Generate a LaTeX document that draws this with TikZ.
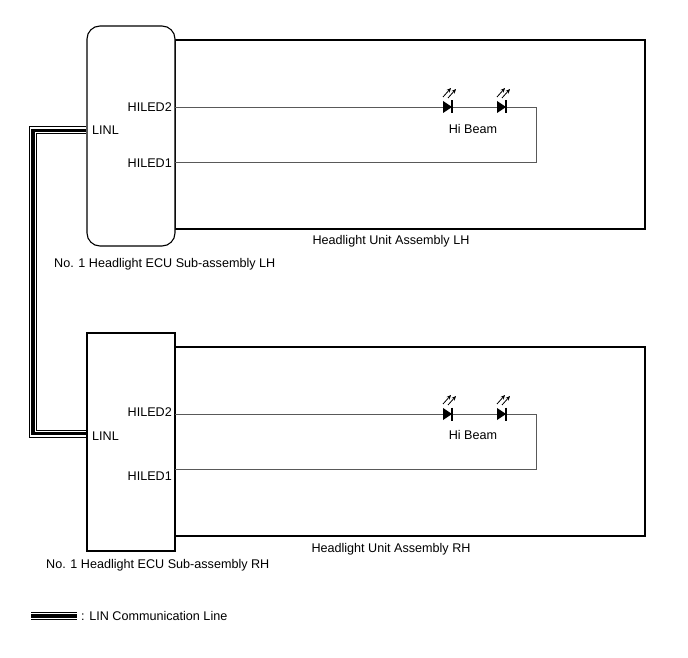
\documentclass[tikz,border=0pt]{standalone}
\usepackage{fontspec}
\setmainfont{Liberation Sans}
\usetikzlibrary{arrows.meta}
\begin{document}
\begin{tikzpicture}[x=1pt,y=-1pt,
  font=\fontsize{12.6}{14}\selectfont,
  unitbox/.style={draw=black, line width=1.1pt, inner sep=0pt},
  ecubox/.style={draw=black, line width=1.1pt, fill=white, inner sep=0pt, minimum width=88pt},
  wire/.style={draw=black!65, line width=0.9pt},
  lbl/.style={inner sep=0pt, text=black},
  linout/.style={line width=8pt, black},
  linmid/.style={line width=6pt, white},
  linin/.style={line width=3.6pt, black},
  led/.pic={
    \fill[black] (-5,-6) -- (4,0) -- (-5,6) -- cycle;
    \draw[black, line width=1.3pt] (4,-6.5) -- (4,6.5);
    \draw[black, line width=0.8pt, -{Stealth[length=4.5pt,width=4pt]}] (-5,-10) -- (3,-19);
    \draw[black, line width=0.8pt, -{Stealth[length=4.5pt,width=4pt]}] (0,-9) -- (8,-18);
  }
]
\useasboundingbox (0,0) rectangle (688,658);

% ---------- LH ----------
\node[unitbox, minimum width=470pt, minimum height=189pt] (unitL) at (410,134.5) {};
\node[ecubox, rounded corners=13pt, minimum height=220pt] (ecuL) at (131,136) {};

\coordinate (l2s) at (175,107);
\coordinate (l2e) at (536,107);
\coordinate (l1e) at (536,162);
\coordinate (l1s) at (175,162);
\draw[wire] (l2s) -- (l2e) -- (l1e) -- (l1s);
\pic at (448,107) {led};
\pic at (502,107) {led};

\node[lbl, anchor=east] (hl2L) at (172,107) {HILED2};
\node[lbl, anchor=east] (hl1L) at (172,163) {HILED1};
\node[lbl, anchor=west] (linlL) at (92,130) {LINL};
\node[lbl] (hbL) at (473,129) {Hi Beam};
\node[lbl] (nameUL) at (391,241) {Headlight Unit Assembly LH};
\node[lbl, anchor=west] (nameEL) at (54,264) {No. 1 Headlight ECU Sub-assembly LH};

% ---------- RH ----------
\node[unitbox, minimum width=470pt, minimum height=189pt] (unitR) at (410,441.5) {};
\node[ecubox, minimum height=218pt] (ecuR) at (131,442) {};

\coordinate (r2s) at (175,414);
\coordinate (r2e) at (536,414);
\coordinate (r1e) at (536,469);
\coordinate (r1s) at (175,469);
\draw[wire] (r2s) -- (r2e) -- (r1e) -- (r1s);
\pic at (448,414) {led};
\pic at (502,414) {led};

\node[lbl, anchor=east] (hl2R) at (172,412) {HILED2};
\node[lbl, anchor=east] (hl1R) at (172,476) {HILED1};
\node[lbl, anchor=west] (linlR) at (92,436) {LINL};
\node[lbl] (hbR) at (473,435) {Hi Beam};
\node[lbl] (nameUR) at (391,549) {Headlight Unit Assembly RH};
\node[lbl, anchor=west] (nameER) at (46,565) {No. 1 Headlight ECU Sub-assembly RH};

% ---------- LIN line ----------
\coordinate (linA) at (ecuL.west |- 0,130.5);
\coordinate (linB) at (ecuR.west |- 0,433.5);
\foreach \s in {linout,linmid,linin}
  \draw[\s] (linA) -| (33,433.5) -- (linB);

% ---------- legend ----------
\coordinate (legA) at (31,616);
\coordinate (legB) at (77,616);
\foreach \s in {linout,linmid,linin}
  \draw[\s] (legA) -- (legB);
\node[lbl, anchor=west] (legT) at (81,616) {: LIN Communication Line};
\end{tikzpicture}
\end{document}
